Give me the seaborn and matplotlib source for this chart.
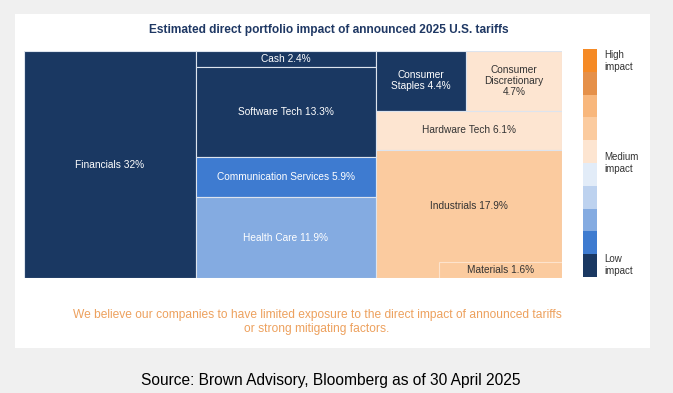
import numpy as np
import matplotlib
matplotlib.use("Agg")
import matplotlib.pyplot as plt
import seaborn as sns
from matplotlib.colors import ListedColormap
from matplotlib.patches import Rectangle

# ---------------- data ----------------
sectors = ["Financials", "Cash", "Software Tech", "Communication Services", "Health Care",
           "Consumer Staples", "Consumer Discretionary", "Hardware Tech", "Industrials", "Materials"]
weights = [32, 2.4, 13.3, 5.9, 11.9, 4.4, 4.7, 6.1, 17.9, 1.6]
labels = ["Financials 32%", "Cash 2.4%", "Software Tech 13.3%", "Communication Services 5.9%",
          "Health Care 11.9%", "Consumer\nStaples 4.4%", "Consumer\nDiscretionary\n4.7%",
          "Hardware Tech 6.1%", "Industrials 17.9%", "Materials 1.6%"]
impact = [1, 1, 1, 2, 3, 1, 6, 6, 7, 7]          # 1 = low ... 10 = high
column = [0, 1, 1, 1, 1, 2, 2, 2, 2, 2]
row = [0, 0, 1, 2, 3, 0, 0, 1, 2, 2]
inset = [False] * 9 + [True]                     # Materials sits in the corner of its row
legend_levels = list(range(10, 0, -1))
legend_labels = ["High\nimpact", "Medium\nimpact", "Low\nimpact"]

level_colors = ["#1a3862", "#3e7bd0", "#84abe1", "#bdd2ef", "#e2ecf8",
                "#fde5d1", "#fbcb9f", "#f8b77c", "#e59049", "#f58a25"]
title = "Estimated direct portfolio impact of announced 2025 U.S. tariffs"
note = ("We believe our companies to have limited exposure to the direct impact of announced tariffs\n"
        "or strong mitigating factors.")
source = "Source: Brown Advisory, Bloomberg as of 30 April 2025"

sns.set_theme(style="white")
plt.rcParams["font.family"] = ["Liberation Sans", "DejaVu Sans"]

W, H = 673, 393
fig = plt.figure(figsize=(W / 100, H / 100), dpi=100)
fig.patch.set_facecolor("#f0f0f0")

def fr(x0, y0, x1, y1):
    return [x0 / W, 1 - y1 / H, (x1 - x0) / W, (y1 - y0) / H]

# white panel
fig.patches.append(Rectangle((15 / W, 1 - 348 / H), 635 / W, 334 / H,
                             transform=fig.transFigure, facecolor="white", edgecolor="none",
                             zorder=-10))

# ---------------- treemap ----------------
ax = fig.add_axes(fr(24, 51, 562, 278))
total = sum(weights)
ncol = max(column) + 1
col_sum = [sum(w for w, c in zip(weights, column) if c == k) for k in range(ncol)]
x0 = 0.0
for k in range(ncol):
    cw = col_sum[k]
    idx = [i for i in range(len(weights)) if column[i] == k]
    rows = sorted(set(row[i] for i in idx))
    y0 = 0.0
    for r in rows:
        ridx = [i for i in idx if row[i] == r]
        rsum = sum(weights[i] for i in ridx)
        rh = rsum / cw
        main = [i for i in ridx if not inset[i]]
        ins = [i for i in ridx if inset[i]]
        msum = sum(weights[i] for i in main)
        xx = x0
        ins_h = 0.0
        for i in ins:
            iw = cw * 0.66
            ih = weights[i] / iw
            ins_h = max(ins_h, ih)
        for i in main:
            w = cw * weights[i] / msum
            ax.bar(xx, rh, width=w, bottom=y0, align="edge", color=level_colors[impact[i] - 1],
                   edgecolor="#dde4ee", linewidth=0.8)
            tc = "white" if impact[i] <= 3 else "#333333"
            ax.text(xx + w / 2, y0 + (rh - ins_h) / 2, labels[i], ha="center", va="center",
                    color=tc, fontsize=7.3, linespacing=1.15)
            xx += w
        for i in ins:
            iw = cw * 0.66
            ih = weights[i] / iw
            lx = x0 + cw - iw
            ly = y0 + rh - ih
            ax.bar(lx, ih, width=iw, bottom=ly, align="edge", color=level_colors[impact[i] - 1],
                   edgecolor="#fde3cc", linewidth=0.8)
            ax.text(lx + iw / 2, ly + ih / 2, labels[i], ha="center", va="center",
                    color="#333333", fontsize=7.3)
        y0 += rh
    x0 += cw
ax.set_xlim(0, total)
ax.set_ylim(1, 0)
ax.axis("off")

# ---------------- legend ----------------
lax = fig.add_axes(fr(583, 49, 597, 277))
sns.heatmap(np.array(legend_levels).reshape(-1, 1), ax=lax, cmap=ListedColormap(level_colors),
            vmin=0.5, vmax=10.5, cbar=False, xticklabels=False, yticklabels=False)
for lab, yc in zip(legend_labels, [61, 163, 265]):
    fig.text(604 / W, 1 - yc / H, lab, ha="left", va="center", fontsize=7, color="#333333",
             linespacing=1.15)

# ---------------- texts ----------------
fig.text(328.5 / W, 1 - 30 / H, title, ha="center", va="center", fontsize=8.6,
         fontweight="bold", color="#1f3864")
fig.text(317 / W, 1 - 322 / H, note, ha="center", va="center", fontsize=8.65,
         color="#eda15e", linespacing=1.25)
fig.text(331 / W, 1 - 380 / H, source, ha="center", va="center", fontsize=11.2, color="black")

fig.savefig("out.png", dpi=100)
